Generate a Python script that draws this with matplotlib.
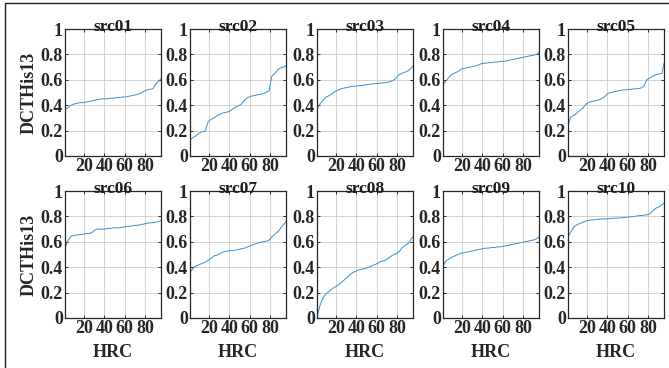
import matplotlib
matplotlib.use('Agg')
import matplotlib.pyplot as plt
from matplotlib.patches import Rectangle
from matplotlib.ticker import FormatStrFormatter

# HRC positions where the curves were read
hrc = [1, 4, 7, 10, 13, 16, 19, 22, 25, 28, 31, 34, 37, 40, 43, 46, 49,
       52, 55, 58, 61, 64, 67, 70, 73, 76, 79, 82, 85, 88, 91, 94, 96]

titles = ['src01', 'src02', 'src03', 'src04', 'src05',
          'src06', 'src07', 'src08', 'src09', 'src10']

src01 = [.37, .38, .40, .41, .415, .42, .42, .425, .43, .435, .44, .445, .45, .45, .45, .455, .455,
         .46, .46, .465, .465, .47, .475, .48, .485, .495, .51, .52, .525, .53, .57, .59, .61]
src02 = [.13, .145, .16, .18, .19, .195, .27, .29, .30, .32, .33, .34, .345, .35, .37, .385, .395,
         .41, .44, .46, .47, .475, .48, .485, .49, .50, .51, .63, .65, .68, .695, .70, .71]
src03 = [.37, .41, .44, .465, .475, .49, .51, .52, .53, .535, .54, .545, .55, .55, .555, .555, .56,
         .565, .565, .57, .57, .575, .575, .58, .585, .595, .61, .64, .65, .66, .67, .69, .71]
src04 = [.56, .59, .62, .645, .655, .665, .685, .69, .695, .70, .705, .71, .72, .73, .73, .735, .735,
         .74, .74, .745, .745, .75, .755, .76, .765, .77, .775, .78, .785, .79, .795, .80, .82]
src05 = [.24, .31, .32, .34, .36, .38, .41, .425, .43, .435, .44, .45, .465, .49, .50, .505, .51,
         .515, .52, .52, .525, .525, .53, .53, .535, .55, .60, .615, .63, .64, .645, .65, .73]
src06 = [.55, .61, .645, .65, .655, .655, .66, .665, .665, .675, .695, .70, .70, .70, .705, .705, .71,
         .71, .71, .715, .72, .72, .725, .73, .73, .735, .74, .745, .75, .75, .755, .76, .77]
src07 = [.36, .39, .41, .42, .43, .44, .455, .47, .49, .495, .51, .52, .525, .53, .53, .535, .54,
         .545, .55, .56, .57, .58, .585, .595, .60, .605, .61, .64, .66, .68, .71, .74, .76]
src08 = [.01, .10, .16, .19, .21, .23, .245, .26, .28, .30, .32, .345, .36, .37, .38, .385, .39,
         .40, .41, .42, .43, .445, .45, .46, .48, .495, .505, .52, .55, .57, .585, .62, .64]
src09 = [.41, .45, .465, .48, .49, .50, .51, .515, .52, .525, .53, .535, .54, .545, .55, .55, .555,
         .555, .56, .56, .565, .57, .575, .58, .585, .59, .595, .60, .605, .61, .615, .625, .64]
src10 = [.64, .68, .72, .735, .745, .755, .765, .77, .772, .775, .777, .78, .78, .782, .783, .785, .787,
         .788, .79, .792, .795, .797, .80, .805, .807, .81, .812, .82, .845, .865, .875, .89, .905]

series = [src01, src02, src03, src04, src05, src06, src07, src08, src09, src10]

plt.rcParams['font.family'] = ['Liberation Serif', 'DejaVu Serif']
plt.rcParams['font.weight'] = 'bold'

fig = plt.figure(figsize=(6.69, 3.68), dpi=100)
W, H = 669.0, 368.0

# frame around the figure (only left and top are visible in the crop)
fig.patches.append(Rectangle((5 / W, -0.2), 1.3, 1.2 - 2.5 / H, transform=fig.transFigure,
                             fill=False, edgecolor='#222222', lw=1.0, clip_on=False))

lefts = [65, 190, 317, 443, 568]
tops = [29, 191]
aw, ah = 96, 127

for i, (name, vals) in enumerate(zip(titles, series)):
    r, c = divmod(i, 5)
    ax = fig.add_axes([lefts[c] / W, 1 - (tops[r] + ah) / H, aw / W, ah / H])
    ax.plot(hrc, vals, color='#3a8fd3', lw=0.7)
    ax.set_xlim(1, 96)
    ax.set_ylim(0, 1)
    ax.set_xticks([20, 40, 60, 80])
    ax.set_yticks([0, 0.2, 0.4, 0.6, 0.8, 1])
    ax.yaxis.set_major_formatter(FormatStrFormatter('%g'))
    ax.grid(True, color='#cccccc', lw=0.6)
    ax.set_axisbelow(True)
    ax.tick_params(direction='in', length=2.5, width=0.7, labelsize=13, pad=1.5,
                   colors='#262626', top=True, right=True)
    for s in ax.spines.values():
        s.set_color('#262626')
        s.set_linewidth(0.9)
    ax.set_title(name, fontsize=12.5, fontweight='bold', pad=-1.5, color='#1a1a1a')
    if c == 0:
        ax.set_ylabel('DCTHis13', fontsize=13, fontweight='bold', labelpad=2, color='#262626')
    if r == 1:
        ax.set_xlabel('HRC', fontsize=13, fontweight='bold', labelpad=5, color='#262626')

fig.savefig('out.png', dpi=100)
